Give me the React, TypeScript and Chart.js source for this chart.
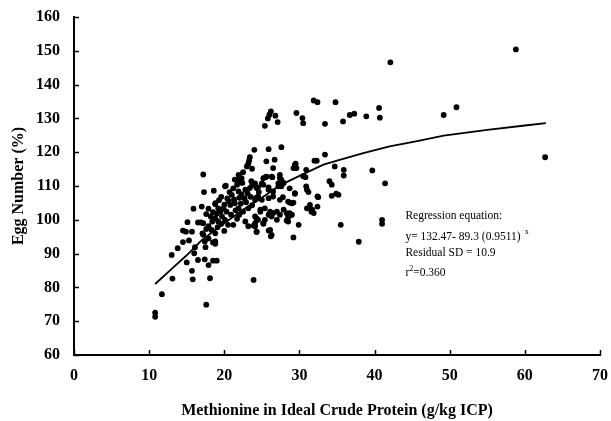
import React, { useEffect, useRef } from "react";
import { Chart, registerables } from "chart.js";

Chart.register(...registerables);

// Observed points: methionine in ideal crude protein (g/kg ICP) vs egg number (%)
const methionine = [
  10.8, 10.8, 11.7, 13.1, 13.0, 13.8, 14.5, 15.3, 14.5, 14.9, 15.7, 15.1, 15.9, 16.5, 16.9, 17.0, 17.9, 18.8, 17.6, 17.2,
  17.3, 18.6, 20.1, 17.1, 16.1, 16.0, 17.5, 15.0, 16.5, 17.4, 18.5, 19.0, 17.9, 15.7, 15.8, 18.1, 17.6, 26.2, 26.0, 26.8,
  25.8, 27.1, 25.4, 24.0, 25.9, 27.6, 23.4, 23.3, 23.2, 25.6, 26.7, 23.7, 22.5, 25.5, 26.4, 21.9, 22.1, 22.4, 21.7, 20.2,
  23.6, 23.7, 24.5, 25.2, 25.9, 21.2, 27.2, 27.9, 19.2, 21.2, 31.9, 32.4, 34.8, 29.6, 30.4, 30.5, 36.7, 37.3, 33.4, 35.8,
  38.9, 40.6, 40.7, 33.4, 32.0, 32.3, 29.5, 29.2, 30.9, 34.7, 35.9, 35.9, 39.7, 41.4, 27.4, 27.6, 30.5, 30.8, 34.0, 34.3,
  28.7, 30.9, 31.0, 31.2, 29.4, 34.3, 34.9, 35.2, 32.5, 27.8, 27.4, 28.7, 29.2, 32.4, 31.0, 31.4, 31.7, 31.9, 27.9, 28.3,
  28.5, 28.7, 27.4, 28.3, 29.9, 35.5, 41.0, 41.0, 29.2, 37.9, 42.1, 58.8, 49.2, 50.9, 62.7, 23.9, 24.3, 25.9, 26.2, 23.9,
  25.2, 18.5, 18.8, 23.0, 21.9, 21.4, 22.3, 25.2, 25.0, 21.0, 21.9, 22.8, 23.4, 24.3, 20.4, 21.3, 22.0, 22.7, 23.5, 24.2,
  18.8, 19.9, 20.3, 20.8, 21.9, 22.5, 23.2, 24.3, 24.8, 18.8, 19.2, 19.7, 20.1, 20.5, 17.2, 17.9, 18.3, 18.8, 22.8, 23.2,
  24.1, 24.3, 17.2, 17.9, 17.4, 18.8, 26.5, 29.4, 29.6, 25.6, 26.3, 27.4, 24.1, 25.9, 26.5, 27.2, 27.6, 29.4, 24.5, 24.1,
  25.0, 25.9, 26.5, 28.5, 29.0, 24.8, 25.4, 26.1, 25.9, 26.3, 26.5, 27.0, 28.7, 29.0, 31.2, 31.6, 24.1, 24.5, 24.1, 25.2,
  25.4, 27.0, 28.5, 26.3, 26.1, 32.4, 19.0, 19.5, 20.0, 20.6, 19.6, 18.4, 18.2, 19.3, 20.9, 21.5, 22.2, 22.9, 21.7, 23.7,
  22.3, 20.7, 19.6, 18.5, 17.6, 19.1, 20.0, 21.4, 23.1, 24.6, 22.0,
];
const eggNumber = [
  72.5, 71.3, 78.0, 82.6, 89.6, 91.6, 93.4, 93.9, 96.8, 96.5, 96.5, 99.3, 103.3, 99.2, 99.2, 103.9, 103.3, 104.6, 101.7, 113.4,
  108.2, 108.6, 109.9, 96.0, 91.9, 90.1, 91.9, 87.4, 88.1, 88.3, 87.9, 87.9, 86.6, 84.9, 82.4, 82.7, 74.9, 132.1, 131.1, 130.8,
  130.0, 128.9, 127.8, 120.7, 120.9, 121.5, 118.5, 117.5, 116.6, 117.3, 117.8, 115.1, 114.1, 112.6, 112.6, 111.9, 111.4, 110.9, 110.4, 110.1,
  111.4, 110.2, 109.6, 110.4, 109.6, 109.3, 109.9, 110.9, 103.4, 98.5, 135.3, 134.8, 134.8, 131.6, 130.1, 128.6, 131.0, 131.4, 128.4, 129.1,
  130.6, 133.1, 130.2, 119.3, 117.5, 117.5, 116.6, 115.3, 114.8, 115.8, 114.8, 113.1, 114.6, 110.8, 112.3, 111.8, 112.9, 112.6, 111.4, 110.4,
  109.3, 109.9, 108.9, 108.2, 107.7, 107.1, 107.7, 107.4, 106.7, 106.7, 105.9, 105.1, 105.1, 103.9, 103.4, 104.4, 103.0, 102.0, 103.0, 102.0,
  101.0, 101.2, 101.5, 99.8, 98.5, 98.5, 100.0, 98.8, 94.8, 93.5, 146.6, 150.4, 131.0, 133.3, 118.5, 82.2, 96.4, 96.8, 95.1, 98.3,
  98.8, 93.3, 92.9, 115.8, 113.3, 111.9, 112.3, 112.3, 110.8, 107.4, 108.4, 108.9, 109.4, 109.4, 106.3, 106.0, 106.5, 106.3, 106.8, 106.5,
  104.9, 103.4, 102.4, 104.4, 103.4, 102.4, 103.4, 100.4, 102.4, 100.4, 99.5, 101.0, 100.0, 98.5, 99.0, 98.1, 97.0, 96.0, 99.5, 98.1,
  98.1, 96.5, 95.6, 94.5, 93.6, 93.6, 115.3, 116.3, 115.3, 112.8, 112.8, 113.3, 110.8, 108.9, 108.4, 110.8, 109.9, 107.9, 106.9, 105.9,
  105.9, 106.4, 106.9, 105.4, 104.9, 103.0, 103.4, 102.4, 101.5, 101.0, 102.0, 102.4, 102.0, 101.5, 103.4, 102.4, 101.0, 100.0, 99.0, 99.0,
  100.0, 100.0, 99.5, 95.5, 97.0, 106.9, 101.8, 102.5, 104.5, 105.5, 98.8, 99.5, 101.0, 105.8, 101.5, 102.8, 104.8, 105.2, 100.3, 104.3,
  107.5, 108.2, 106.8, 102.3, 97.3, 97.8, 96.7, 104.9, 107.8, 108.2, 101.5,
];

// Fitted regression curve
const curveX = [10.8, 13, 15, 17, 20, 22.5, 25, 27.4, 30, 33.2, 35, 38.5, 42, 45.5, 49.2, 55, 60, 62.8];
const curveY = [81.0, 85.5, 89.5, 94.0, 99.0, 103.0, 106.5, 110.2, 113.0, 116.3, 117.5, 119.7, 121.7, 123.2, 124.9, 126.6, 127.9, 128.6];

const xTicks = [0, 10, 20, 30, 40, 50, 60, 70];
const yTicks = [60, 70, 80, 90, 100, 110, 120, 130, 140, 150, 160];

const xTitle = "Methionine in Ideal Crude Protein (g/kg ICP)";
const yTitle = "Egg Number (%)";
const noteTitle = "Regression equation:";
const noteEquation = "y= 132.47- 89.3 (0.9511)";
const noteEquationSup = "x";
const noteSD = "Residual SD = 10.9";
const noteR2Lead = "r";
const noteR2Sup = "2";
const noteR2Tail = "=0.360";

const SERIF = '"Liberation Serif", "Times New Roman", serif';

const decorPlugin = {
  id: "decor",
  afterDraw(chart: any) {
    const { ctx, chartArea, scales } = chart;
    const xs = scales.x;
    const ys = scales.y;
    ctx.save();
    ctx.strokeStyle = "#000";
    ctx.lineWidth = 1.5;
    xTicks.forEach((v) => {
      const px = Math.round(xs.getPixelForValue(v)) + 0.5;
      ctx.beginPath();
      ctx.moveTo(px, chartArea.bottom);
      ctx.lineTo(px, chartArea.bottom - 5);
      ctx.stroke();
    });
    yTicks.forEach((v) => {
      const py = Math.round(ys.getPixelForValue(v)) + 0.5;
      ctx.beginPath();
      ctx.moveTo(chartArea.left, py);
      ctx.lineTo(chartArea.left + 5, py);
      ctx.stroke();
    });

    // regression annotation
    const ax = xs.getPixelForValue(44.1);
    const ay = ys.getPixelForValue(101.2);
    ctx.fillStyle = "#000";
    ctx.textAlign = "left";
    ctx.textBaseline = "middle";
    ctx.font = `11.5px ${SERIF}`;
    ctx.fillText(noteTitle, ax, ay);
    ctx.fillText(noteEquation, ax, ay + 21);
    const w = ctx.measureText(noteEquation).width;
    ctx.fillText(noteSD, ax, ay + 37);
    ctx.fillText(noteR2Lead, ax, ay + 57);
    const wr = ctx.measureText(noteR2Lead).width;
    ctx.font = `8px ${SERIF}`;
    ctx.fillText(noteEquationSup, ax + w + 4, ay + 16);
    ctx.fillText(noteR2Sup, ax + wr, ay + 53);
    ctx.font = `11.5px ${SERIF}`;
    ctx.fillText(noteR2Tail, ax + wr + 4, ay + 57);
    ctx.restore();
  },
};

export default function App() {
  const canvasRef = useRef<HTMLCanvasElement | null>(null);

  useEffect(() => {
    const canvas = canvasRef.current;
    if (!canvas) return;
    const scatter = methionine.map((x, i) => ({ x, y: eggNumber[i] }));
    const curve = curveX.map((x, i) => ({ x, y: curveY[i] }));
    const tickFont = { family: SERIF, size: 16, weight: "bold" as const };
    const titleFont = { family: SERIF, size: 16, weight: "bold" as const };

    const chart = new Chart(canvas, {
      type: "scatter",
      data: {
        datasets: [
          {
            label: "Observed",
            data: scatter,
            backgroundColor: "#000",
            borderWidth: 0,
            pointRadius: 2.9,
            pointHoverRadius: 2.9,
          },
          {
            label: "Regression",
            data: curve,
            showLine: true,
            borderColor: "#000",
            borderWidth: 1.8,
            pointRadius: 0,
            fill: false,
            tension: 0,
          } as any,
        ],
      },
      options: {
        animation: false,
        responsive: false,
        devicePixelRatio: 1,
        layout: { padding: { left: 0, right: 11, top: 17, bottom: 0 } },
        plugins: {
          legend: { display: false },
          tooltip: { enabled: false },
          title: { display: false },
        },
        scales: {
          x: {
            type: "linear",
            min: 0,
            max: 70,
            afterBuildTicks: (scale: any) => {
              scale.ticks = xTicks.map((value) => ({ value }));
            },
            afterFit: (scale: any) => {
              scale.height = 66;
              scale.paddingLeft = 0;
              scale.paddingRight = 0;
            },
            grid: { display: false, drawTicks: false },
            border: { display: true, color: "#000", width: 2 },
            ticks: { color: "#000", font: tickFont, padding: 11, maxRotation: 0 },
            title: {
              display: true,
              text: xTitle,
              color: "#000",
              font: titleFont,
              padding: { top: 0, bottom: 1 },
            },
          },
          y: {
            type: "linear",
            min: 60,
            max: 160,
            afterBuildTicks: (scale: any) => {
              scale.ticks = yTicks.map((value) => ({ value }));
            },
            afterFit: (scale: any) => {
              scale.width = 74;
              scale.paddingTop = 0;
              scale.paddingBottom = 0;
            },
            grid: { display: false, drawTicks: false },
            border: { display: true, color: "#000", width: 2 },
            ticks: { color: "#000", font: tickFont, padding: 14 },
            title: {
              display: true,
              text: yTitle,
              color: "#000",
              font: titleFont,
              padding: { top: 9, bottom: 0 },
            },
          },
        },
      },
      plugins: [decorPlugin],
    });
    return () => chart.destroy();
  }, []);

  return (
    <div style={{ position: "absolute", left: 0, top: 0, width: 611, height: 421, background: "#fff" }}>
      <canvas ref={canvasRef} width={611} height={421} style={{ display: "block" }} />
    </div>
  );
}
